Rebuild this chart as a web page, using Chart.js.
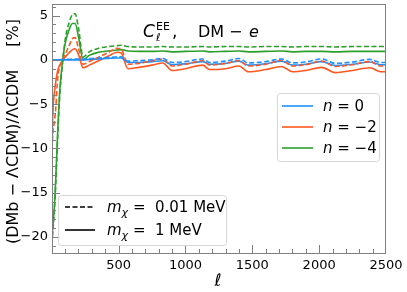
<!DOCTYPE html>
<html>
<head>
<meta charset="utf-8">
<script src="https://cdn.jsdelivr.net/npm/chart.js@4"></script>
<style>
  html, body { margin: 0; padding: 0; background: #fff; }
  canvas { display: block; }
</style>
</head>
<body>
<canvas id="chartEE" width="407" height="292"></canvas>
<script>
// multipoles
const ells = [2, 5, 10, 20, 30, 45, 60, 80, 100, 130, 155, 175, 200, 235, 280, 350, 420, 490, 520, 570,
  650, 750, 830, 900, 1000, 1130, 1180, 1300, 1400, 1470, 1600, 1720, 1800, 1900, 2020, 2120, 2250, 2380, 2460, 2500];

// n = 0
const n0_m001 = [0, 0, 0, 0, 0, 0, 0, 0.05, 0.05, 0.05, 0.1, 0.1, 0.1, 0.1, 0.15, 0.2, 0.25, 0.35, 0.35, -0.15,
  -0.1, 0, 0.15, -0.3, -0.2, 0.1, -0.3, -0.15, 0.15, -0.35, -0.2, 0.1, -0.35, -0.25, 0.1, -0.4, -0.25, 0.05, -0.3, -0.3];
const n0_m1 = [0, 0, 0, 0, 0, 0, 0, 0, 0, 0, 0, 0, 0, 0, 0.05, 0.1, 0.15, 0.2, 0.2, -0.3,
  -0.3, -0.2, -0.1, -0.55, -0.45, -0.2, -0.5, -0.4, -0.15, -0.6, -0.45, -0.15, -0.6, -0.5, -0.2, -0.65, -0.5, -0.25, -0.55, -0.55];
// n = -2
const n2_m001 = [-10, -9, -8, -7, -5.5, -2, -0.8, 0, 0.6, 1.6, 2.4, 2.5, 1.3, -0.5, -0.2, 0.3, 0.8, 1.3, 1.2, -0.5,
  -0.4, -0.1, 0.1, -0.7, -0.5, -0.1, -0.6, -0.4, -0.1, -0.7, -0.5, -0.05, -0.7, -0.55, -0.15, -0.75, -0.55, -0.2, -0.7, -0.7];
const n2_m1 = [-11.5, -8, -5.5, -3.7, -2.5, -1.2, -0.6, -0.1, 0.3, 0.8, 1.15, 1.25, 0.6, -0.9, -0.6, -0.1, 0.4, 0.85, 0.75, -1.0,
  -0.85, -0.6, -0.35, -1.2, -1.0, -0.6, -1.1, -1.0, -0.7, -1.35, -1.1, -0.75, -1.35, -1.2, -0.85, -1.45, -1.2, -0.9, -1.35, -1.35];
// n = -4
const n4_m001 = [-20.8, -20, -19, -17, -14, -8.5, -4, -0.5, 2.2, 4.2, 5.1, 5.2, 3.6, 0.3, 0.9, 1.3, 1.5, 1.6, 1.65, 1.5,
  1.45, 1.45, 1.5, 1.45, 1.45, 1.5, 1.45, 1.5, 1.5, 1.45, 1.5, 1.5, 1.45, 1.5, 1.5, 1.45, 1.5, 1.5, 1.5, 1.5];
const n4_m1 = [-20.5, -19.5, -18.5, -16.5, -13.5, -8, -3.5, -0.3, 1.8, 3.4, 4.1, 4.1, 2.6, 0, 0.5, 0.85, 1.0, 1.1, 1.15, 1.0,
  0.95, 0.95, 1.0, 0.9, 0.95, 1.0, 0.9, 0.95, 1.0, 0.9, 0.95, 1.0, 0.9, 0.95, 0.95, 0.9, 0.95, 0.95, 0.95, 0.95];

const nLabels = ['0', '\u22122', '\u22124'];
const massLabels = ['0.01 MeV', '1 MeV'];
const xTicks = [500, 1000, 1500, 2000, 2500];
const yTicks = [-20, -15, -10, -5, 0, 5];

const colors = ['#1e90ff', '#ff5722', '#2ca02c'];
const FONT = "'DejaVu Sans'";

function _pts(arr) {
  return ells.map((l, i) => ({ x: l, y: arr[i] }));
}
function _ds(arr, color, dashed) {
  return {
    data: _pts(arr), borderColor: color, borderWidth: 1.6, pointRadius: 0,
    borderDash: dashed ? [5, 2.5] : [], cubicInterpolationMode: 'monotone', fill: false
  };
}

// draws a run of text pieces with different fonts
function _runs(ctx, x, y, parts) {
  parts.forEach(p => {
    ctx.font = p.f;
    ctx.fillText(p.t, x, y + (p.dy || 0));
    x += ctx.measureText(p.t).width;
  });
  return x;
}

function _box(ctx, x, y, w, h) {
  ctx.save();
  ctx.fillStyle = 'rgba(255,255,255,0.8)';
  ctx.strokeStyle = '#d6d6d6';
  ctx.lineWidth = 1;
  ctx.beginPath();
  ctx.roundRect(x + 0.5, y + 0.5, w, h, 3);
  ctx.fill();
  ctx.stroke();
  ctx.restore();
}

const decor = {
  id: 'decor',
  afterDatasetsDraw(chart) {
    const { ctx, chartArea: a, scales: { x, y } } = chart;
    ctx.save();
    // frame
    ctx.strokeStyle = '#808080';
    ctx.lineWidth = 1;
    ctx.strokeRect(Math.round(a.left) + 0.5, Math.round(a.top) + 0.5, Math.round(a.right - a.left) - 1, Math.round(a.bottom - a.top));
    // ticks, inward
    ctx.beginPath();
    for (let v = 100; v < 2500; v += 100) {
      const px = Math.round(x.getPixelForValue(v)) + 0.5;
      const len = xTicks.includes(v) ? 8 : 4;
      ctx.moveTo(px, a.bottom); ctx.lineTo(px, a.bottom - len);
    }
    for (let v = -21; v <= 6; v += 1) {
      const py = Math.round(y.getPixelForValue(v)) + 0.5;
      const len = yTicks.includes(v) ? 8 : 4;
      ctx.moveTo(a.left, py); ctx.lineTo(a.left + len, py);
    }
    ctx.stroke();

    ctx.fillStyle = '#000';
    ctx.textBaseline = 'alphabetic';
    ctx.textAlign = 'left';
    // title
    ctx.font = 'italic 17px ' + FONT;
    ctx.fillText('C', 143, 37);
    ctx.font = '11px ' + FONT;
    ctx.fillText('EE', 156, 30);
    ctx.font = 'italic 11px ' + FONT;
    ctx.fillText('\u2113', 156, 41);
    ctx.font = '17px ' + FONT;
    ctx.fillText(',', 172, 37);
    ctx.font = '16px ' + FONT;
    ctx.fillText('DM', 198, 37);
    ctx.fillText('\u2212', 229, 37);
    ctx.font = 'italic 16px ' + FONT;
    ctx.fillText('e', 249, 37);

    // y title
    ctx.save();
    ctx.translate(18, 0);
    ctx.rotate(-Math.PI / 2);
    ctx.textAlign = 'left';
    ctx.font = '16px ' + FONT;
    ctx.fillText('(DMb \u2212 \u039bCDM)/\u039bCDM', -244, 0);
    ctx.textAlign = 'right';
    ctx.fillText('[%]', -19, 0);
    ctx.restore();

    // x title
    ctx.font = 'italic 17px ' + FONT;
    ctx.textAlign = 'center';
    ctx.fillText('\u2113', 218, 286);
    ctx.textAlign = 'left';

    // legend n
    _box(ctx, 277, 93, 102, 68);
    ctx.setLineDash([]);
    ctx.lineWidth = 1.6;
    nLabels.forEach((lab, i) => {
      const ly = 106 + i * 21;
      ctx.strokeStyle = colors[i];
      ctx.beginPath(); ctx.moveTo(282, ly); ctx.lineTo(313, ly); ctx.stroke();
      ctx.fillStyle = '#000';
      _runs(ctx, 323, ly + 5, [
        { t: 'n', f: 'italic 15px ' + FONT },
        { t: ' = ' + lab, f: '15px ' + FONT }
      ]);
    });

    // legend mass
    _box(ctx, 58, 195, 168, 50);
    ctx.strokeStyle = '#000';
    massLabels.forEach((lab, i) => {
      const ly = 207 + i * 23;
      ctx.setLineDash(i === 0 ? [5, 2.5] : []);
      ctx.beginPath(); ctx.moveTo(65, ly); ctx.lineTo(95, ly); ctx.stroke();
      ctx.setLineDash([]);
      _runs(ctx, 107, ly + 5, [
        { t: 'm', f: 'italic 15px ' + FONT },
        { t: '\u03c7', f: 'italic 11px ' + FONT, dy: 4 },
        { t: ' =  ' + lab, f: '15px ' + FONT }
      ]);
    });
    ctx.restore();
  }
};

const minus = v => String(v).replace('-', '\u2212');

new Chart(document.getElementById('chartEE').getContext('2d'), {
  type: 'line',
  data: {
    datasets: [
      _ds(n0_m001, colors[0], true), _ds(n2_m001, colors[1], true), _ds(n4_m001, colors[2], true),
      _ds(n0_m1, colors[0], false), _ds(n2_m1, colors[1], false), _ds(n4_m1, colors[2], false)
    ]
  },
  options: {
    responsive: false,
    devicePixelRatio: 1,
    animation: false,
    layout: { padding: { top: 4, right: 21, left: 0, bottom: 0 } },
    plugins: { legend: { display: false }, tooltip: { enabled: false } },
    scales: {
      x: {
        type: 'linear', min: 2, max: 2500,
        grid: { display: false, drawTicks: false }, border: { display: false },
        afterBuildTicks: s => { s.ticks = xTicks.map(v => ({ value: v })); },
        afterFit: s => { s.height = 39; s.paddingLeft = 0; s.paddingRight = 0; },
        ticks: { font: { family: 'DejaVu Sans', size: 13 }, color: '#000', padding: 5, maxRotation: 0, callback: v => minus(v) }
      },
      y: {
        type: 'linear', min: -21.8, max: 6.3,
        grid: { display: false, drawTicks: false }, border: { display: false },
        afterBuildTicks: s => { s.ticks = yTicks.map(v => ({ value: v })); },
        afterFit: s => { s.width = 52; s.paddingTop = 0; s.paddingBottom = 0; },
        ticks: { font: { family: 'DejaVu Sans', size: 13 }, color: '#000', padding: 4, callback: v => minus(v) }
      }
    }
  },
  plugins: [decor]
});
</script>
</body>
</html>
